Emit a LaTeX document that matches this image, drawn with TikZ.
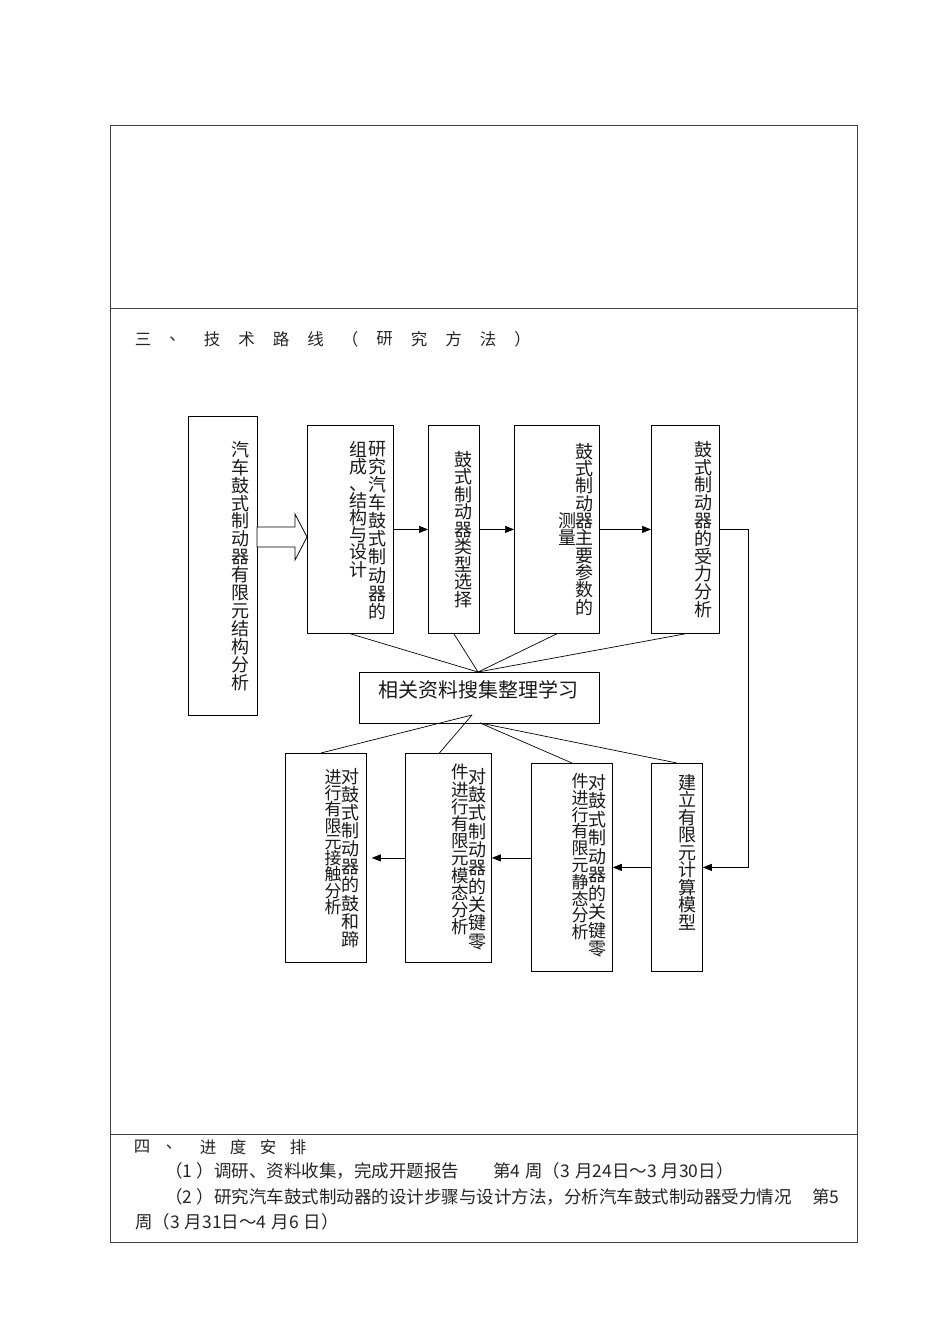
\documentclass[tikz,border=0pt]{standalone}
\usepackage{fontspec}
\setmainfont{Noto Sans CJK SC}
\usetikzlibrary{arrows.meta}
\tikzset{
  frame/.style={draw=black!75, line width=0.9pt},
  box/.style={draw, line width=0.8pt, inner sep=0pt, anchor=north west},
  conn/.style={draw, line width=0.7pt},
  arr/.style={draw, line width=0.7pt, -{Triangle[length=9pt,width=7pt]}},
  hollow/.style={draw, line width=0.8pt, fill=white},
  vt/.style={inner sep=0pt, anchor=north, align=center, text=black!90},
  hdr/.style={inner sep=0pt, text=black!85, font=\fontsize{16.5}{17}\selectfont},
  body/.style={inner sep=0pt, anchor=west, text=black!85, font=\fontsize{17.5}{18}\selectfont},
}
\begin{document}
\begin{tikzpicture}[x=1pt,y=-1pt]
\useasboundingbox (0,0) rectangle (950,1344);
\fill[white] (0,0) rectangle (950,1344);

% table frame
\draw[frame] (110,125) rectangle (857,1242);
\draw[frame] (110,308) -- (857,308);
\draw[frame] (110,1134) -- (857,1134);

% section 3 heading
\foreach \c/\x [count=\i] in {三/143, 、/177.5, 技/212, 术/246.5, 路/281, 线/315.5, （/350, 研/384.5, 究/419, 方/453.5, 法/488, ）/522.5}
  \node[hdr] (h\i) at (\x,339) {\c};

% boxes
\node[box, minimum width=69, minimum height=299] (A) at (188,416) {};
\node[box, minimum width=86, minimum height=208] (B) at (307,425) {};
\node[box, minimum width=51, minimum height=208] (C) at (428,425) {};
\node[box, minimum width=85, minimum height=208] (D) at (514,425) {};
\node[box, minimum width=68, minimum height=208] (E) at (651,425) {};
\node[box, minimum width=240, minimum height=51] (F) at (359,672) {};
\node[box, minimum width=81, minimum height=209] (J) at (285,753) {};
\node[box, minimum width=86, minimum height=209] (K) at (405,753) {};
\node[box, minimum width=81, minimum height=208] (L) at (531,763) {};
\node[box, minimum width=51, minimum height=208] (H) at (651,763) {};

% box texts (vertical columns, right to left)
\node[vt, font=\fontsize{18}{17.9}\selectfont] (tA) at (240,441) {汽\\车\\鼓\\式\\制\\动\\器\\有\\限\\元\\结\\构\\分\\析};
\node[vt, font=\fontsize{18}{18.1}\selectfont] (tB1) at (377,441) {研\\究\\汽\\车\\鼓\\式\\制\\动\\器\\的};
\node[vt, font=\fontsize{18}{17.1}\selectfont] (tB2) at (358,441) {组\\成\\、\\结\\构\\与\\设\\计};
\node[vt, font=\fontsize{18}{17.5}\selectfont] (tC) at (463,451) {鼓\\式\\制\\动\\器\\类\\型\\选\\择};
\node[vt, font=\fontsize{18}{17.3}\selectfont] (tD1) at (584,443) {鼓\\式\\制\\动\\器\\主\\要\\参\\数\\的};
\node[vt, font=\fontsize{18}{17.3}\selectfont] (tD2) at (567,512) {测\\量};
\node[vt, font=\fontsize{18}{17.8}\selectfont] (tE) at (703,441) {鼓\\式\\制\\动\\器\\的\\受\\力\\分\\析};
\node[inner sep=0pt, text=black!90, font=\fontsize{20}{20}\selectfont] (tF) at (478,690) {相关资料搜集整理学习};
\node[vt, font=\fontsize{18}{18.1}\selectfont] (tJ1) at (350,768) {对\\鼓\\式\\制\\动\\器\\的\\鼓\\和\\蹄};
\node[vt, font=\fontsize{17}{16.3}\selectfont] (tJ2) at (333,769) {进\\行\\有\\限\\元\\接\\触\\分\\析};
\node[vt, font=\fontsize{18}{18.3}\selectfont] (tK1) at (477,768) {对\\鼓\\式\\制\\动\\器\\的\\关\\键\\零};
\node[vt, font=\fontsize{17.5}{17.2}\selectfont] (tK2) at (460,764) {件\\进\\行\\有\\限\\元\\模\\态\\分\\析};
\node[vt, font=\fontsize{18}{18.5}\selectfont] (tL1) at (597,774) {对\\鼓\\式\\制\\动\\器\\的\\关\\键\\零};
\node[vt, font=\fontsize{17}{16.8}\selectfont] (tL2) at (580,773) {件\\进\\行\\有\\限\\元\\静\\态\\分\\析};
\node[vt, font=\fontsize{18}{17.5}\selectfont] (tH) at (687,774) {建\\立\\有\\限\\元\\计\\算\\模\\型};

% hollow block arrow from A to B
\draw[hollow] (257,527) -- (295,527) -- (295,514) -- (B.west |- 0,537) -- (295,560) -- (295,547) -- (257,547) -- cycle;

% arrows in the top row
\draw[arr] (B.east) -- (C.west);
\draw[arr] (C.east) -- (D.west);
\draw[arr] (D.east) -- (E.west);
\draw[arr] (E.east) -| ([xshift=46pt]H.east) -- (H.east);

% arrows in the bottom row
\draw[arr] (H.west) -- (L.east);
\draw[arr] (K.east -| L.west) -- (K.east);
\draw[arr, shorten >=5pt] (K.west) -- (J.east);

% lines to and from the study box
\coordinate (fT) at (478,672);
\coordinate (fJ) at (472,715);
\coordinate (fL) at (480,723);
\draw[conn] (B.south) -- (fT);
\draw[conn] (C.south) -- (fT);
\draw[conn] (D.south) -- (fT);
\draw[conn] (E.south) -- (fT);
\draw[conn] ([xshift=-5pt]J.north) -- (fJ);
\draw[conn] ([xshift=-9pt]K.north) -- (fJ);
\draw[conn] (L.north) -- (fL);
\draw[conn] (H.north) -- (fL);

% section 4
\foreach \c/\x [count=\i] in {四/142, 、/174, 进/208, 度/238, 安/268, 排/298}
  \node[hdr] (s\i) at (\x,1147) {\c};
\node[body, anchor=east] (r2a) at (214,1171) {（1\hspace{4pt}）};
\node[body] (r2b) at (214,1171) {调研、资料收集，完成开题报告};
\node[body] (r2c) at (493,1171) {第4\hspace{5pt}周（3\hspace{5pt}月24日～3\hspace{5pt}月30日）};
\node[body, anchor=east] (r3a) at (214,1197) {（2\hspace{4pt}）};
\node[body] (r3b) at (214,1197) {研究汽车鼓式制动器的设计步骤与设计方法，分析汽车鼓式制动器受力情况};
\node[body] (r3c) at (812,1197) {第5};
\node[body] (r4) at (135,1222) {周（3\hspace{5pt}月31日～4\hspace{5pt}月6\hspace{5pt}日）};
\end{tikzpicture}
\end{document}
